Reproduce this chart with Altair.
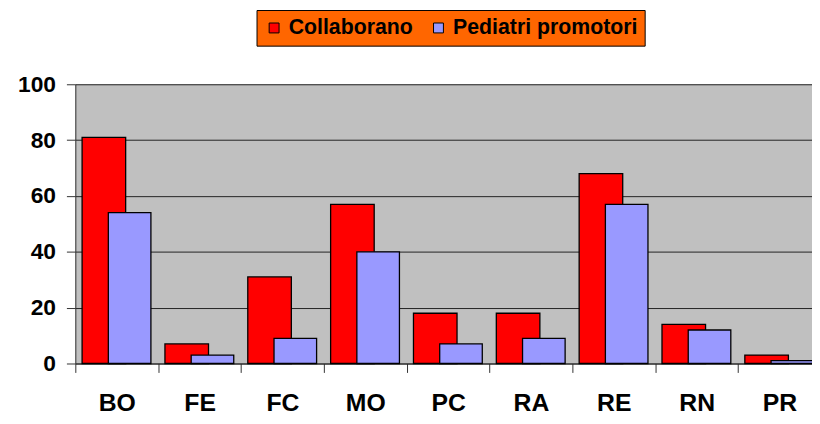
import altair as alt
import pandas as pd

regions = ["BO", "FE", "FC", "MO", "PC", "RA", "RE", "RN", "PR"]
collaborano = [81, 7, 31, 57, 18, 18, 68, 14, 3]
pediatri = [54, 3, 9, 40, 7, 9, 57, 12, 1]
series_names = ["Collaborano", "Pediatri promotori"]
series_colors = ["#FF0000", "#9999FF"]
y_ticks = [0, 20, 40, 60, 80, 100]

df = pd.DataFrame({
    "region": regions * 2,
    "value": collaborano + pediatri,
    "series": [series_names[0]] * len(regions) + [series_names[1]] * len(regions),
})

FONT = "Liberation Sans"

x = alt.X(
    "region:N",
    sort=regions,
    scale=alt.Scale(domain=regions, range=[0, 753], paddingInner=0, paddingOuter=0),
    axis=alt.Axis(
        title=None, labelAngle=0, labelFont=FONT, labelFontSize=25,
        labelFontWeight="bold", labelColor="black", labelPadding=18,
        tickBand="extent", tickSize=9, tickColor="#333333", tickWidth=1,
        domainColor="#222222", domainWidth=1, grid=False,
    ),
)
y = alt.Y(
    "value:Q",
    scale=alt.Scale(domain=[0, 100], nice=False),
    axis=alt.Axis(
        values=y_ticks, title=None, labelFont=FONT, labelFontSize=23,
        labelFontWeight="bold", labelColor="black", labelPadding=11,
        tickSize=9, tickColor="#333333", tickWidth=1,
        domainColor="#333333", domainWidth=1,
        grid=True, gridColor="#222222", gridWidth=1, gridOpacity=1,
    ),
)
color = alt.Color(
    "series:N",
    scale=alt.Scale(domain=series_names, range=series_colors),
    legend=alt.Legend(
        title=None, orient="none", legendX=183, legendY=-75,
        direction="horizontal", fillColor="#FF6600", strokeColor="black",
        padding=7, symbolType="square", symbolSize=100,
        symbolStrokeColor="black", symbolStrokeWidth=1, symbolOpacity=1,
        labelFont=FONT, labelFontSize=21.5, labelFontWeight="bold",
        labelColor="black", labelOffset=4, columnPadding=15, labelLimit=400,
    ),
)

base = alt.Chart(df).encode(x=x, y=y, color=color)
red = base.transform_filter(alt.datum.series == series_names[0]).mark_bar(
    width=44, xOffset=-13, stroke="black", strokeWidth=1.3, opacity=1
)
blue = base.transform_filter(alt.datum.series == series_names[1]).mark_bar(
    width=43, xOffset=13, stroke="black", strokeWidth=1.3, opacity=1
)

chart = (
    alt.layer(red, blue)
    .properties(
        width=744, height=282,
        autosize=alt.AutoSizeParams(type="none"),
        padding={"left": 68, "top": 75, "right": 0, "bottom": 51},
    )
    .configure_view(fill="#C0C0C0", strokeWidth=0)
)

chart.save("out.html", embed_options={"renderer": "svg", "actions": False})
